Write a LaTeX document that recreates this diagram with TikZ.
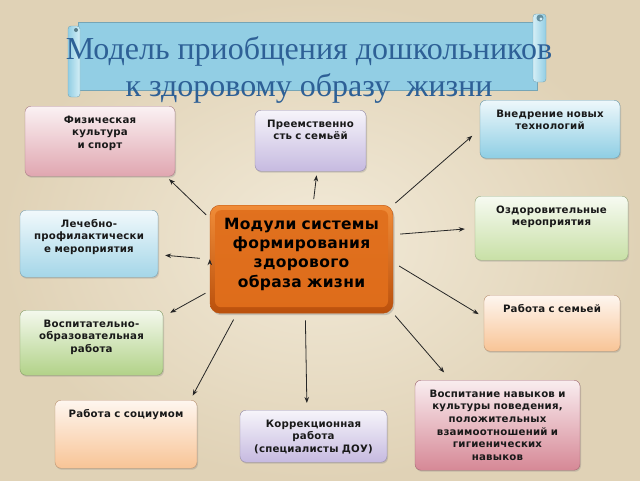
\documentclass[tikz,border=0pt]{standalone}
\usepackage{fontspec}
\setmainfont{Liberation Serif}
\newfontfamily\boxfont[LetterSpace=2]{DejaVu Sans}
\usepackage{tikz}
\usetikzlibrary{arrows.meta,calc,shadows,positioning}
\usepackage{xcolor}
\definecolor{paperlt}{RGB}{242,234,216}
\definecolor{paperdk}{RGB}{224,210,182}
\definecolor{titleblue}{RGB}{46,96,150}
\definecolor{banlt}{RGB}{212,238,246}
\definecolor{bandk}{RGB}{146,206,228}
\definecolor{pinkc}{RGB}{224,166,176}
\definecolor{rosec}{RGB}{214,136,150}
\definecolor{lilac}{RGB}{198,186,224}
\definecolor{bluec}{RGB}{142,206,228}
\definecolor{cyanc}{RGB}{164,214,232}
\definecolor{greenc}{RGB}{200,224,166}
\definecolor{olivec}{RGB}{178,210,136}
\definecolor{peach}{RGB}{248,196,150}
\definecolor{orangelt}{RGB}{240,140,56}
\definecolor{orangec}{RGB}{222,108,26}
\definecolor{orangedk}{RGB}{186,80,12}
\newcommand{\boxtxt}{\boxfont\bfseries\fontsize{10.2}{12.6}\selectfont}
\newcommand{\hubtxt}{\boxfont\bfseries\fontsize{15.5}{19.3}\selectfont}
\tikzset{
  modbox/.style={draw=#1!75!black, line width=0.4pt, rounded corners=6pt,
    top color=white!85!#1, bottom color=#1, anchor=north, align=center,
    font=\boxtxt, text=black!90, inner sep=3pt, text height=14pt,
    drop shadow={opacity=0.3,shadow xshift=1pt,shadow yshift=-1.5pt}},
  hubbox/.style={draw=orangedk, line width=0.4pt, rounded corners=10pt,
    top color=orangelt, bottom color=orangedk, anchor=north, align=center,
    font=\hubtxt, text=black, inner sep=3pt, text height=21pt,
    drop shadow={opacity=0.35,shadow xshift=1.5pt,shadow yshift=-2pt},
    path picture={\shade[top color=orangec!85!orangelt, bottom color=orangec, rounded corners=6pt]
      ($(path picture bounding box.north west)+(5pt,-5pt)$) rectangle
      ($(path picture bounding box.south east)+(-5pt,6pt)$);}},
}
\begin{document}
\begin{tikzpicture}[x=1pt,y=-1pt]
\useasboundingbox (0,0) rectangle (640,480);
\shade[inner color=paperlt, outer color=paperdk] (0,0) rectangle (640,480);
% title scroll
\shade[top color=bandk, middle color=banlt, bottom color=bandk, draw=bandk!80!black, line width=0.4pt] (78,22) rectangle (537,90);
\shade[left color=bandk, right color=banlt, draw=bandk!80!black, line width=0.4pt, rounded corners=3pt] (68,26) rectangle (80,97);
\fill[bandk!60!black] (76,30) circle (2);
\shade[left color=banlt, right color=bandk, draw=bandk!80!black, line width=0.4pt, rounded corners=3pt] (533,14) rectangle (546,82);
\fill[bandk!70!black] (540,18) circle (3.5);
\fill[banlt] (541,19) circle (1.6);
\node[font=\fontsize{32}{37}\selectfont, text=titleblue, align=center] (Title) at (309,70) {Модель приобщения дошкольников\\к здоровому образу~~жизни};
% modules
\node[hubbox, text width=177pt, text depth=81pt] (Mod) at (301.5,205) {Модули системы\\формирования\\здорового\\образа жизни};
\node[modbox=pinkc, text width=144pt, text depth=50pt] (Fiz) at (100,106) {Физическая\\культура\\и спорт};
\node[modbox=lilac, text width=105pt, text depth=41pt] (Preem) at (310.5,110) {Преемственно\\сть с семьёй};
\node[modbox=bluec, text width=134pt, text depth=38pt] (Vnedr) at (550,100) {Внедрение новых\\технологий};
\node[modbox=greenc, text width=147pt, text depth=44pt] (Ozdor) at (551.5,196) {Оздоровительные\\мероприятия};
\node[modbox=cyanc, text width=132pt, text depth=47pt] (Lech) at (89,210) {Лечебно-\\профилактически\\е мероприятия};
\node[modbox=peach, text width=130pt, text depth=36pt] (Semya) at (552,295) {Работа с семьей};
\node[modbox=olivec, text width=137pt, text depth=45pt] (Vospobr) at (91.5,310) {Воспитательно-\\образовательная\\работа};
\node[modbox=peach, text width=136pt, text depth=48pt] (Socium) at (126,400) {Работа с социумом};
\node[modbox=lilac, text width=141pt, text depth=32pt] (Korr) at (313.5,410) {Коррекционная\\работа\\(специалисты ДОУ)};
\node[modbox=rosec, text width=159pt, text depth=70pt] (Vospnav) at (497.5,380) {Воспитание навыков и\\культуры поведения,\\положительных\\взаимоотношений и\\гигиенических\\навыков};
\path[->,>={Stealth[length=6pt,width=4.5pt]},line width=0.8pt,draw=black!85]
(Mod.156) edge[shorten <=5pt,shorten >=4pt] (Fiz.-28)
(Mod.78) edge[shorten <=6pt,shorten >=4pt] (Preem.-78)
(Mod.north east) edge[shorten <=3pt,shorten >=10pt] (Vnedr.west)
(Mod.15) edge[shorten <=7pt,shorten >=10pt] (Ozdor.west)
(Mod.-2) edge[shorten <=7pt,shorten >=6pt] (Semya.175)
(Mod.south east) edge[shorten <=3pt,shorten >=10pt] (Vospnav.136)
(Mod.-86) edge[shorten <=7pt,shorten >=7pt] (Korr.104)
(Mod.-140) edge[shorten <=7pt,shorten >=5pt] (Socium.28)
(Mod.-161) edge[shorten <=5pt,shorten >=8pt] (Vospobr.20)
(Mod.west) edge[shorten <=10pt,shorten >=7pt] (Lech.-9);
\end{tikzpicture}
\end{document}
